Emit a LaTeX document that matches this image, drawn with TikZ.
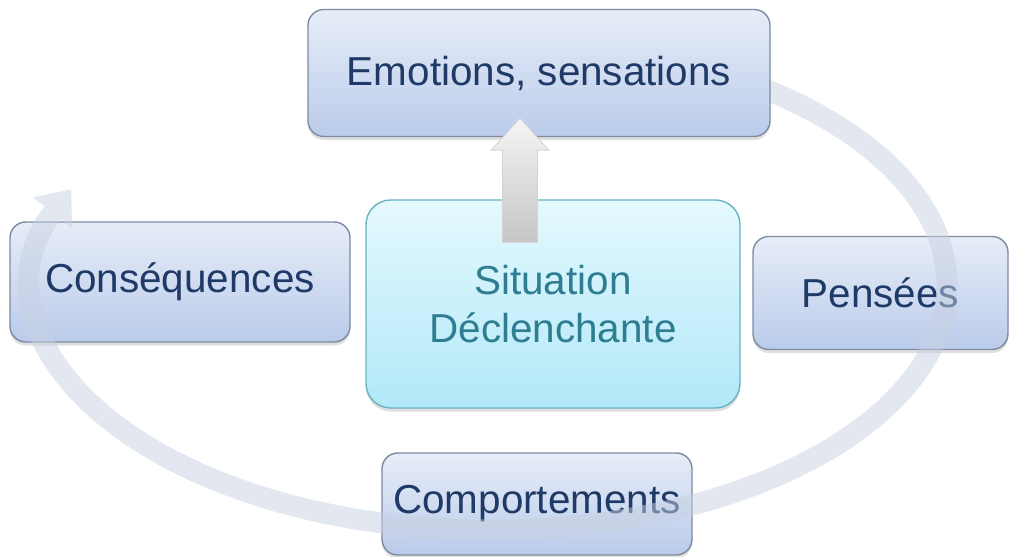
\documentclass[tikz,border=0pt]{standalone}
\usepackage{fontspec}
\setsansfont{Liberation Sans}
\usetikzlibrary{arrows.meta, positioning, calc, shadows}
\definecolor{cboxtop}{HTML}{E7EDF8}
\definecolor{cboxbot}{HTML}{BACBEA}
\definecolor{cboxline}{HTML}{7E8BA2}
\definecolor{ctext}{HTML}{1F3A66}
\definecolor{csittop}{HTML}{E4F9FE}
\definecolor{csitbot}{HTML}{B2E8F8}
\definecolor{csitline}{HTML}{67B3C1}
\definecolor{csittext}{HTML}{2E7D91}
\definecolor{cloop}{HTML}{C8D1E2}
\tikzset{
  every picture/.style={font=\sffamily, line width=0.8pt},
  box/.style={draw=cboxline, top color=cboxtop, bottom color=cboxbot, rounded corners=9pt,
    align=center, text=ctext, font=\sffamily\fontsize{23}{27}\selectfont,
    drop shadow={shadow xshift=0pt, shadow yshift=-2pt, opacity=0.25}},
  sitbox/.style={box, draw=csitline, top color=csittop, bottom color=csitbot, text=csittext,
    rounded corners=14pt},
  loop/.style={draw=cloop, line width=0.42cm,
    -{Triangle[width=0.95cm, length=0.6cm]}},
  uparrow/.style={top color=gray!8, bottom color=gray!45, draw=gray!35, line width=0.4pt},
}
\begin{document}
\begin{tikzpicture}
  \useasboundingbox (0,0) rectangle (20.2,11.14);
  \node[box, minimum width=6.8cm, minimum height=2.4cm] (cons) at (3.6,5.5) {Conséquences};
  \node[box, minimum width=5.1cm, minimum height=2.26cm] (pens) at (17.61,5.28) {Pensées};
  \node[box, minimum width=6.2cm, minimum height=2.04cm] (comp) at (10.74,1.06) {Comportements};
  \node[sitbox, minimum width=7.48cm, minimum height=4.16cm] (sit) at (11.06,5.06) {Situation\\Déclenchante};
  % the cycle
  \coordinate (loopc) at (9.82,5.44);
  \begin{scope}[transparency group, opacity=0.5]
    \draw[loop] (loopc) ++(55:9.12 and 4.9) arc[start angle=55, end angle=-203, x radius=9.12, y radius=4.9];
  \end{scope}
  \node[box, minimum width=9.24cm, minimum height=2.54cm] (emo) at (10.78,9.68) {Emotions, sensations};
  % trigger arrow
  \coordinate (upfoot) at ($(sit.north)+(-0.66,-0.86)$);
  \coordinate (uptip) at ($(emo.south)+(-0.38,0.38)$);
  \shade[uparrow] ($(upfoot)+(-0.35,0)$) -- ($(uptip)+(-0.35,-0.64)$) -- ($(uptip)+(-0.58,-0.64)$)
    -- (uptip) -- ($(uptip)+(0.58,-0.64)$) -- ($(uptip)+(0.35,-0.64)$) -- ($(upfoot)+(0.35,0)$) -- cycle;
\end{tikzpicture}
\end{document}
